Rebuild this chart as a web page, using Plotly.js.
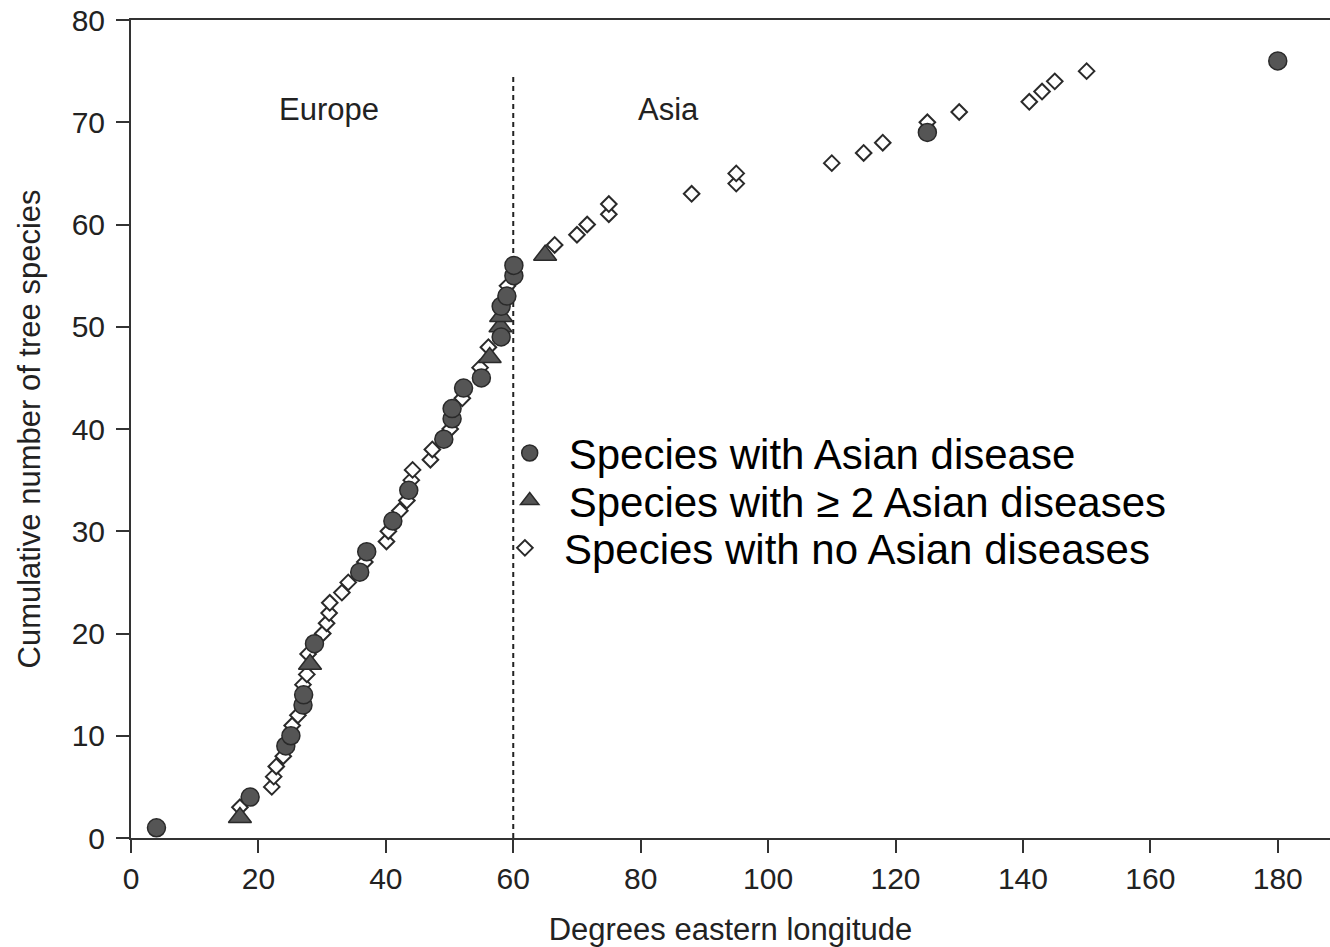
<!DOCTYPE html>
<html>
<head>
<meta charset="utf-8">
<script src="https://cdn.plot.ly/plotly-3.0.1.min.js"></script>
<style>html,body{margin:0;padding:0;background:#fff;}#chart{width:1330px;height:947px;}</style>
</head>
<body>
<div id="chart"></div>
<script>
// Species with Asian disease (filled circles)
var diseaseX = [4, 18.7, 24.3, 25.1, 27.0, 27.1, 28.8, 35.9, 37.0, 41.1, 43.6, 49.1, 50.4, 50.4, 52.2, 55.0, 58.1, 58.1, 59.0, 60.1, 60.1, 125, 180];
var diseaseY = [1, 4, 9, 10, 13, 14, 19, 26, 28, 31, 34, 39, 41, 42, 44, 45, 49, 52, 53, 55, 56, 69, 76];

// Species with >= 2 Asian diseases (filled triangles)
var multiX = [17.1, 28.1, 56.3, 58.0, 58.1, 65.0];
var multiY = [2, 17, 47, 50, 51, 57];

// Species with no Asian diseases (open diamonds)
var noneX = [17.1, 22.1, 22.4, 22.8, 23.9, 25.3, 26.2, 27.0, 27.6, 27.8, 30.1, 30.7, 31.1, 31.2, 33.1, 34.1, 36.7, 40.1, 40.4, 42.2, 43.3, 44.0, 44.2, 47.0, 47.3, 50.1, 52.0, 54.8, 56.1, 59.1, 66.5, 70.0, 71.6, 75.0, 75.0, 88.0, 95.0, 95.0, 110.0, 115.0, 118.0, 125.0, 130.0, 141.0, 143.0, 145.0, 150.0];
var noneY = [3, 5, 6, 7, 8, 11, 12, 15, 16, 18, 20, 21, 22, 23, 24, 25, 27, 29, 30, 32, 33, 35, 36, 37, 38, 40, 43, 46, 48, 54, 58, 59, 60, 61, 62, 63, 64, 65, 66, 67, 68, 70, 71, 72, 73, 74, 75];

var legendNames = ["Species with Asian disease", "Species with \u2265 2 Asian diseases", "Species with no Asian diseases"];

var boundaryX = 60;      // Europe / Asia divide
var boundaryTop = 74.7;

var regionLabels = ["Europe", "Asia"];
var regionX = [31.1, 84.3];
var regionY = [71.2, 71.2];

var xTicks = [0, 20, 40, 60, 80, 100, 120, 140, 160, 180];
var yTicks = [0, 10, 20, 30, 40, 50, 60, 70, 80];

var font = "Liberation Sans, Arial, Helvetica, sans-serif";

var traces = [
  {
    x: noneX, y: noneY, type: "scatter", mode: "markers", name: legendNames[2], legend: "legend3",
    marker: {symbol: "diamond", size: 12, color: "#ffffff", line: {color: "#2a2a2a", width: 2}},
    cliponaxis: false
  },
  {
    x: multiX, y: multiY, type: "scatter", mode: "markers", name: legendNames[1], legend: "legend2",
    marker: {symbol: "triangle-up", size: 20, color: "#555555", line: {color: "#2a2a2a", width: 1.5}},
    cliponaxis: false
  },
  {
    x: diseaseX, y: diseaseY, type: "scatter", mode: "markers", name: legendNames[0], legend: "legend",
    marker: {symbol: "circle", size: 18, color: "#555555", line: {color: "#2a2a2a", width: 1.5}},
    cliponaxis: false
  }
];

var annotations = regionLabels.map(function (t, i) {
  return {x: regionX[i], y: regionY[i], xref: "x", yref: "y", text: t, showarrow: false,
          font: {family: font, size: 31, color: "#222"}};
});

function legendAt(x, y) {
  return {
    x: x, y: y, xanchor: "left", yanchor: "top",
    bgcolor: "rgba(0,0,0,0)", borderwidth: 0, itemwidth: 68,
    font: {family: font, size: 42, color: "#000"}
  };
}

var layout = {
  width: 1330, height: 947,
  paper_bgcolor: "#ffffff", plot_bgcolor: "#ffffff",
  margin: {l: 131, r: 0, t: 20, b: 109},
  showlegend: true,
  legend: legendAt(0.300, 0.512),
  legend2: legendAt(0.300, 0.454),
  legend3: legendAt(0.296, 0.396),
  xaxis: {
    range: [0, 188.2], tickvals: xTicks, ticktext: xTicks.map(String),
    showgrid: false, zeroline: false, showline: true, mirror: true,
    linecolor: "#333", linewidth: 2,
    ticks: "outside", ticklen: 13, tickwidth: 2, tickcolor: "#333",
    tickfont: {family: font, size: 30, color: "#222"},
    title: {text: "Degrees eastern longitude", font: {family: font, size: 31, color: "#222"}, standoff: 25},
    automargin: false
  },
  yaxis: {
    range: [0, 80], tickvals: yTicks, ticktext: yTicks.map(String),
    showgrid: false, zeroline: false, showline: true,
    linecolor: "#333", linewidth: 2,
    ticks: "outside", ticklen: 13, tickwidth: 2, tickcolor: "#333", ticklabelstandoff: 5,
    tickfont: {family: font, size: 30, color: "#222"},
    title: {text: "Cumulative number of tree species", font: {family: font, size: 31, color: "#222"}, standoff: 22},
    automargin: false
  },
  shapes: [{
    type: "line", xref: "x", yref: "y", x0: boundaryX, x1: boundaryX, y0: 0, y1: boundaryTop,
    line: {color: "#222", width: 2, dash: "5px,4px"}, layer: "below"
  }],
  annotations: annotations
};

Plotly.newPlot("chart", traces, layout, {displayModeBar: false, staticPlot: true});
</script>
</body>
</html>
